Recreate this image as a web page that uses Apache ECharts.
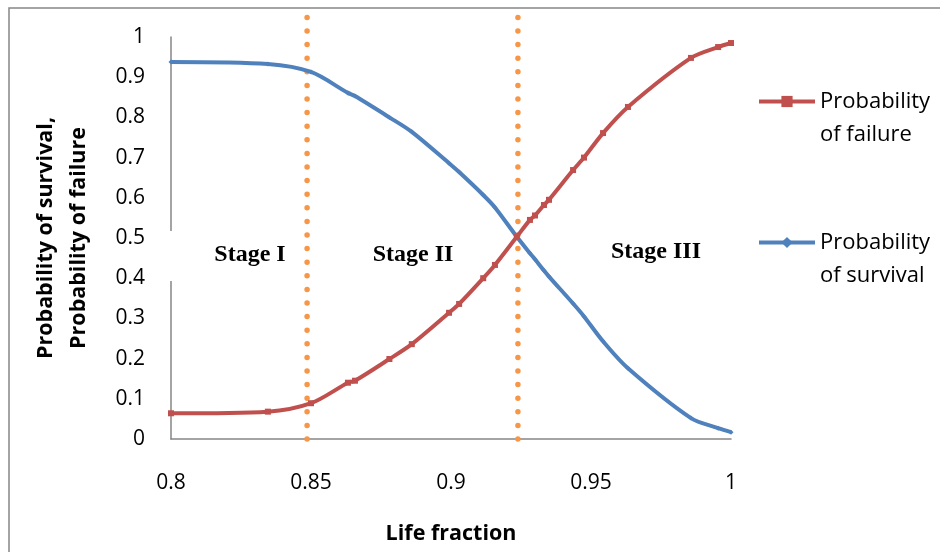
<!DOCTYPE html>
<html lang="en">
  <head>
    <meta charset="UTF-8" />
    <title>Probability of survival / failure</title>
    <style>
      html, body { margin: 0; padding: 0; background: #fff; }
    </style>
  </head>
  <body>
    <div id="main" style="width: 940px; height: 552px"></div>
    <script src="https://cdn.jsdelivr.net/npm/echarts@6/dist/echarts.min.js"></script>
    <script>
      // values
      const lifeFraction = [
        0.8, 0.8346, 0.85, 0.8632, 0.8657, 0.878, 0.886, 0.8993, 0.9029,
        0.9115, 0.9157, 0.9235, 0.9282, 0.93, 0.9332, 0.935, 0.9436, 0.9475,
        0.9543, 0.9632, 0.9857, 0.9954, 1.0,
      ];
      const failure = [
        0.064, 0.068, 0.089, 0.14, 0.145, 0.199, 0.236, 0.314, 0.336, 0.4,
        0.433, 0.503, 0.545, 0.556, 0.582, 0.595, 0.669, 0.7, 0.761, 0.826,
        0.948, 0.975, 0.985,
      ];
      const survival = [
        0.938, 0.933, 0.913, 0.861, 0.853, 0.8, 0.764, 0.686, 0.664, 0.607,
        0.576, 0.503, 0.462, 0.447, 0.419, 0.404, 0.337, 0.305, 0.243, 0.176,
        0.052, 0.027, 0.017,
      ];
      const stageBounds = [0.8486, 0.9239];
      const stageLineTop = 1.055;
      const xTicks = [0.8, 0.85, 0.9, 0.95, 1];

      const pairs = (ys) => lifeFraction.map((x, i) => [x, ys[i]]);

      const stageLines = stageBounds.map((x) => ({
        type: "line",
        data: [
          [x, 0],
          [x, stageLineTop],
        ],
        clip: false,
        silent: true,
        showSymbol: false,
        symbol: "none",
        z: 1,
        lineStyle: {
          color: "#F79646",
          width: 5.5,
          type: [0, 13.6],
          cap: "round",
        },
      }));

      const legendBase = {
        orient: "vertical",
        left: 757,
        padding: 0,
        itemWidth: 56,
        itemHeight: 14,
        itemGap: 0,
        lineStyle: { width: 4 },
        textStyle: {
          fontFamily: "Open Sans",
          fontSize: 22,
          color: "#000",
          lineHeight: 33,
        },
      };

      const chart = echarts.init(document.getElementById("main"));
      chart.setOption({
        animation: false,
        backgroundColor: "#fff",
        grid: {
          left: 171,
          top: 37,
          width: 560,
          height: 402,
          outerBoundsMode: "none",
          containLabel: false,
        },
        legend: [
          Object.assign({}, legendBase, {
            top: 52,
            data: ["Probability of failure"],
            formatter: () => " \nProbability\nof failure",
          }),
          Object.assign({}, legendBase, {
            top: 193,
            data: ["Probability of survival"],
            formatter: () => " \nProbability\nof survival",
          }),
        ],
        xAxis: {
          type: "value",
          min: 0.8,
          max: 1,
          interval: 0.05,
          name: "Life fraction",
          nameLocation: "middle",
          nameGap: 84,
          nameTextStyle: {
            fontFamily: "Open Sans",
            fontWeight: "bold",
            fontSize: 21.5,
            color: "#000",
          },
          axisLine: { lineStyle: { color: "#868686", width: 1.5 } },
          axisTick: { show: false },
          splitLine: { show: false },
          axisLabel: {
            margin: 34,
            fontFamily: "Open Sans",
            fontSize: 21,
            color: "#000",
            formatter: (v) => {
              const t = xTicks.find((k) => Math.abs(k - v) < 1e-9);
              return t === undefined ? "" : String(t);
            },
          },
        },
        yAxis: {
          type: "value",
          min: 0,
          max: 1,
          interval: 0.1,
          name: "Probability of survival,\nProbability of failure",
          nameLocation: "middle",
          nameGap: 76,
          nameTextStyle: {
            fontFamily: "Open Sans",
            fontWeight: "bold",
            fontSize: 21.5,
            lineHeight: 33,
            color: "#000",
          },
          axisLine: { show: true, lineStyle: { color: "#868686", width: 1.5 } },
          axisTick: { show: false },
          splitLine: { show: false },
          axisLabel: {
            margin: 26,
            fontFamily: "Open Sans",
            fontSize: 21,
            color: "#000",
            formatter: (v) => String(Math.round(v * 10) / 10),
          },
        },
        series: [
          ...stageLines,
          {
            name: "Probability of failure",
            type: "line",
            data: pairs(failure),
            smooth: 0.3,
            symbol: "rect",
            symbolSize: 6,
            z: 3,
            itemStyle: { color: "#C0504D" },
            lineStyle: { color: "#C0504D", width: 4 },
          },
          {
            name: "Probability of survival",
            type: "line",
            data: pairs(survival),
            smooth: 0.3,
            symbol: "diamond",
            symbolSize: 5,
            z: 2,
            itemStyle: { color: "#4F81BD" },
            lineStyle: { color: "#4F81BD", width: 4 },
          },
        ],
        graphic: [
          {
            type: "rect",
            z: 100,
            shape: { x: 9, y: 8, width: 980, height: 600 },
            style: { fill: "none", stroke: "#868686", lineWidth: 1.5 },
          },
          {
            type: "rect",
            z: 100,
            shape: { x: 166, y: 231, width: 10, height: 50 },
            style: { fill: "#fff" },
          },
          {
            type: "text",
            z: 100,
            x: 250,
            y: 255,
            style: {
              text: "Stage I",
              font: "bold 24px 'Liberation Serif'",
              fill: "#000",
              align: "center",
              verticalAlign: "middle",
            },
          },
          {
            type: "text",
            z: 100,
            x: 413,
            y: 255,
            style: {
              text: "Stage II",
              font: "bold 24px 'Liberation Serif'",
              fill: "#000",
              align: "center",
              verticalAlign: "middle",
            },
          },
          {
            type: "text",
            z: 100,
            x: 656,
            y: 252,
            style: {
              text: "Stage III",
              font: "bold 24px 'Liberation Serif'",
              fill: "#000",
              align: "center",
              verticalAlign: "middle",
            },
          },
        ],
      });
    </script>
  </body>
</html>
